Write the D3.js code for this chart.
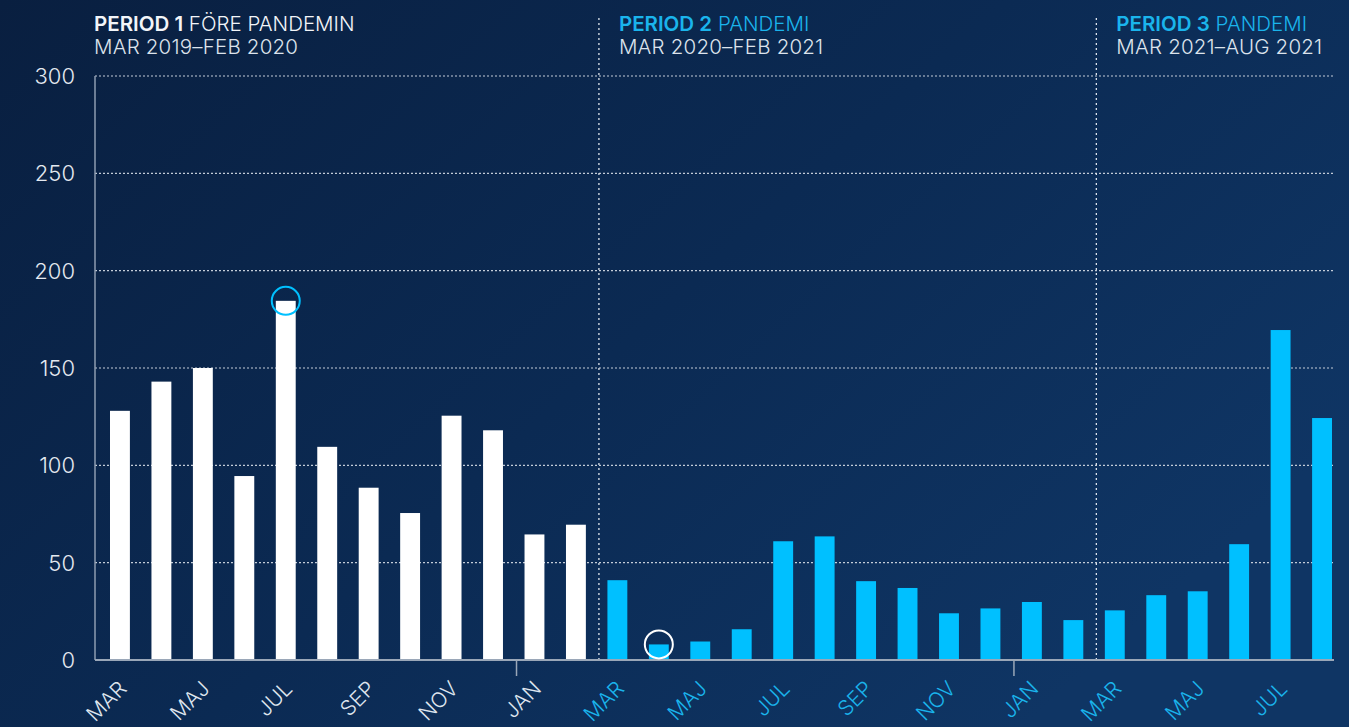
<!DOCTYPE html>
<html>
<head>
<meta charset="utf-8">
<script src="https://cdn.jsdelivr.net/npm/d3@7"></script>
<style>
  html, body { margin: 0; padding: 0; background: #0a2246; }
  svg { display: block; font-family: "Inter", "Lato", sans-serif; }
</style>
</head>
<body>
<div id="chart"></div>
<script>
// months, one per bar (mar 2019 - aug 2021)
const monthKeys = [
  "2019-03","2019-04","2019-05","2019-06","2019-07","2019-08","2019-09","2019-10","2019-11","2019-12","2020-01","2020-02",
  "2020-03","2020-04","2020-05","2020-06","2020-07","2020-08","2020-09","2020-10","2020-11","2020-12","2021-01","2021-02",
  "2021-03","2021-04","2021-05","2021-06","2021-07","2021-08"
];
const monthNames = ["JAN","FEB","MAR","APR","MAJ","JUN","JUL","AUG","SEP","OKT","NOV","DEC"];
const values = [
  128, 143, 150, 94.5, 184.5, 109.5, 88.5, 75.5, 125.5, 118, 64.5, 69.5,
  41, 8, 9.5, 15.8, 61, 63.5, 40.5, 37, 24, 26.5, 29.8, 20.5,
  25.5, 33.3, 35.3, 59.5, 169.5, 124.3
];
const periodStarts = ["2019-03", "2020-03", "2021-03"];
const periodNames = ["PERIOD 1", "PERIOD 2", "PERIOD 3"];
const periodSubtitles = ["FÖRE PANDEMIN", "PANDEMI", "PANDEMI"];
const periodRanges = ["MAR 2019–FEB 2020", "MAR 2020–FEB 2021", "MAR 2021–AUG 2021"];
const highlighted = ["2019-07", "2020-04"];
const yTicks = [0, 50, 100, 150, 200, 250, 300];

const width = 1349, height = 727;
const plotLeft = 95, plotRight = 1334, plotTop = 76, plotBottom = 660;
const white = "#ffffff", cyan = "#00c0ff", cyanText = "#1ab4ec";

const periodIndex = k => d3.bisectRight(periodStarts, k) - 1;
const monthLabel = k => monthNames[+k.slice(5) - 1];

const svg = d3.select("#chart").append("svg")
  .attr("width", width)
  .attr("height", height);

const grad = svg.append("defs").append("linearGradient")
  .attr("id", "bg").attr("x1", "0").attr("y1", "0").attr("x2", "1").attr("y2", "0.6");
grad.append("stop").attr("offset", "0%").attr("stop-color", "#091f40");
grad.append("stop").attr("offset", "55%").attr("stop-color", "#0b2a53");
grad.append("stop").attr("offset", "100%").attr("stop-color", "#0f3564");
svg.append("rect").attr("width", width).attr("height", height).attr("fill", "url(#bg)");

const x = d3.scaleBand()
  .domain(monthKeys)
  .range([plotLeft, plotRight - 2])
  .paddingInner(0.52)
  .paddingOuter(0.181)
  .align(1);

const y = d3.scaleLinear().domain([0, 300]).range([plotBottom, plotTop]);

// gridlines
svg.append("g").selectAll("line")
  .data(yTicks.filter(d => d > 0))
  .join("line")
  .attr("x1", plotLeft).attr("x2", plotRight - 1)
  .attr("y1", d => y(d)).attr("y2", d => y(d))
  .attr("stroke", "#c3ccd8")
  .attr("stroke-width", 1.2)
  .attr("stroke-dasharray", "2,2");

// y labels
svg.append("g").selectAll("text")
  .data(yTicks)
  .join("text")
  .attr("x", 75)
  .attr("y", d => y(d))
  .attr("dy", "0.36em")
  .attr("text-anchor", "end")
  .attr("fill", "#e4e9f0")
  .attr("font-size", 22)
  .attr("font-weight", 300)
  .text(d => d);

// period dividers
const dividerX = periodStarts.slice(1).map(k => x(k) - 8.5);
svg.append("g").selectAll("line")
  .data(dividerX)
  .join("line")
  .attr("x1", d => d).attr("x2", d => d)
  .attr("y1", 18).attr("y2", plotBottom)
  .attr("stroke", "#dfe5ee")
  .attr("stroke-width", 1.3)
  .attr("stroke-dasharray", "2,3");

// bars
svg.append("g").selectAll("rect")
  .data(monthKeys)
  .join("rect")
  .attr("x", k => x(k))
  .attr("width", x.bandwidth())
  .attr("y", (k, i) => y(values[i]))
  .attr("height", (k, i) => y(0) - y(values[i]))
  .attr("fill", k => periodIndex(k) === 0 ? white : cyan);

// axes lines
svg.append("line")
  .attr("x1", plotLeft).attr("x2", plotLeft)
  .attr("y1", plotTop).attr("y2", plotBottom)
  .attr("stroke", "#8e9db1").attr("stroke-width", 1.5);
svg.append("line")
  .attr("x1", plotLeft).attr("x2", plotRight)
  .attr("y1", plotBottom).attr("y2", plotBottom)
  .attr("stroke", "#9aa7b8").attr("stroke-width", 2);

// year ticks at january
svg.append("g").selectAll("line")
  .data(monthKeys.filter(k => k.endsWith("-01")))
  .join("line")
  .attr("x1", k => x(k) - 8).attr("x2", k => x(k) - 8)
  .attr("y1", plotBottom).attr("y2", plotBottom + 16)
  .attr("stroke", "#9aa7b8").attr("stroke-width", 1.5);

// month labels, every other month
svg.append("g").selectAll("text")
  .data(monthKeys.filter((k, i) => i % 2 === 0))
  .join("text")
  .attr("transform", k => `translate(${x(k) + x.bandwidth() / 2 + 8},${plotBottom + 30}) rotate(-45)`)
  .attr("text-anchor", "end")
  .attr("fill", k => periodIndex(k) === 0 ? "#dfe5ee" : cyanText)
  .attr("font-size", 21)
  .attr("font-weight", 300)
  .text(monthLabel);

// highlight circles
svg.append("g").selectAll("circle")
  .data(highlighted)
  .join("circle")
  .attr("cx", k => x(k) + x.bandwidth() / 2)
  .attr("cy", k => y(values[monthKeys.indexOf(k)]))
  .attr("r", 14)
  .attr("fill", "none")
  .attr("stroke", k => periodIndex(k) === 0 ? cyan : white)
  .attr("stroke-width", 2);

// period titles
const titleX = [94, ...dividerX.map(d => d + 20)];
periodNames.forEach((name, i) => {
  const col = i === 0 ? "#f2f5f9" : cyanText;
  const t = svg.append("text")
    .attr("x", titleX[i]).attr("y", 31)
    .attr("font-size", 20.5)
    .attr("fill", col);
  t.append("tspan").attr("font-weight", 600).text(name);
  t.append("tspan").attr("font-weight", 300).text(" " + periodSubtitles[i]);
  svg.append("text")
    .attr("x", titleX[i]).attr("y", 54)
    .attr("font-size", 20.5)
    .attr("letter-spacing", 0.2)
    .attr("font-weight", 300)
    .attr("fill", "#dde3ec")
    .text(periodRanges[i]);
});
</script>
</body>
</html>
